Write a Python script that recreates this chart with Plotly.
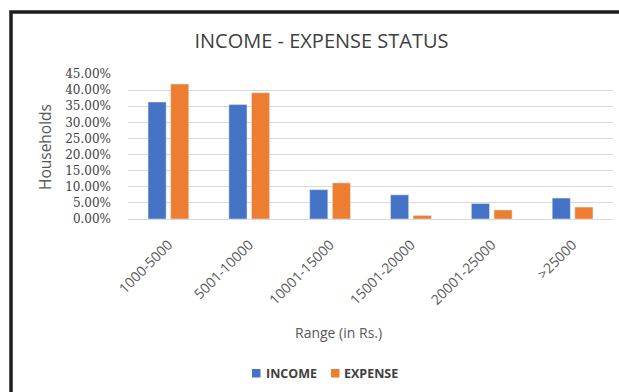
import plotly.graph_objects as go

# Household share by monthly range (in Rs.)
ranges = ["1000-5000", "5001-10000", "10001-15000", "15001-20000", "20001-25000", ">25000"]
income = [0.363, 0.355, 0.091, 0.075, 0.048, 0.065]
expense = [0.419, 0.392, 0.112, 0.011, 0.028, 0.037]
y_ticks = [0.0, 0.05, 0.10, 0.15, 0.20, 0.25, 0.30, 0.35, 0.40, 0.45]

INCOME_COLOR = "#4472C4"
EXPENSE_COLOR = "#ED7D31"

W, H = 619, 392
L, R, T, B = 128, 6, 74, 173
PW, PH = W - L - R, H - T - B


def px_x(px):
    """Pixel column -> paper x."""
    return (px - L) / PW


def px_y(py):
    """Pixel row (from top) -> paper y."""
    return (H - B - py) / PH


fig = go.Figure()
fig.add_trace(go.Bar(name="INCOME", x=ranges, y=income, marker_color=INCOME_COLOR))
fig.add_trace(go.Bar(name="EXPENSE", x=ranges, y=expense, marker_color=EXPENSE_COLOR))

fig.update_layout(
    width=W,
    height=H,
    margin=dict(l=L, r=R, t=T, b=B, autoexpand=False),
    paper_bgcolor="white",
    plot_bgcolor="white",
    barmode="group",
    bargap=0.44,
    bargroupgap=0.2,
    showlegend=False,
    title=dict(
        text="INCOME - EXPENSE STATUS",
        x=321.5 / W,
        xanchor="center",
        y=1 - 41 / H,
        yanchor="middle",
        font=dict(family="Open Sans", size=20, color="#404040"),
    ),
    xaxis=dict(
        tickangle=-45,
        tickfont=dict(family="Open Sans", size=14, color="#595959"),
        showgrid=False,
        showline=False,
        ticks="",
        ticklabelstandoff=14,
        fixedrange=True,
    ),
    yaxis=dict(
        range=[0, 0.45],
        tickvals=y_ticks,
        tickformat=".2%",
        tickfont=dict(family="DejaVu Serif", size=12, color="#404040"),
        showgrid=True,
        gridcolor="#d9d9d9",
        gridwidth=1,
        zeroline=True,
        zerolinecolor="#d9d9d9",
        zerolinewidth=1,
        showline=False,
        ticks="",
        ticklabelstandoff=16,
        fixedrange=True,
    ),
)

# Axis titles
fig.add_annotation(
    text="Households",
    xref="paper", yref="paper",
    x=px_x(45), y=px_y(147),
    xanchor="center", yanchor="middle",
    textangle=-90,
    showarrow=False,
    font=dict(family="Open Sans", size=15.5, color="#595959"),
)
fig.add_annotation(
    text="Range (in Rs.)",
    xref="paper", yref="paper",
    x=px_x(338), y=px_y(332),
    xanchor="center", yanchor="middle",
    showarrow=False,
    font=dict(family="Open Sans", size=14, color="#595959"),
)

# Legend: colour key squares with bold series names
legend_items = [("INCOME", INCOME_COLOR, 252, 264), ("EXPENSE", EXPENSE_COLOR, 331, 342)]
for name, color, sq_left, text_left in legend_items:
    fig.add_shape(
        type="rect",
        xref="paper", yref="paper",
        x0=px_x(sq_left), x1=px_x(sq_left + 8.5),
        y0=px_y(377.5), y1=px_y(369),
        line=dict(width=0),
        fillcolor=color,
    )
    fig.add_annotation(
        text=name,
        xref="paper", yref="paper",
        x=px_x(text_left), y=px_y(373),
        xanchor="left", yanchor="middle",
        showarrow=False,
        font=dict(family="Open Sans", size=12.5, color="#404040", weight="bold"),
    )

# Chart frame (runs off the right and bottom edges)
fig.add_shape(
    type="rect",
    xref="paper", yref="paper",
    x0=px_x(11), x1=px_x(W + 40),
    y0=px_y(H + 40), y1=px_y(12),
    line=dict(color="#1e1e1e", width=3.5),
    fillcolor="rgba(0,0,0,0)",
    layer="above",
)

fig.write_html("out.html", config=dict(displayModeBar=False))
